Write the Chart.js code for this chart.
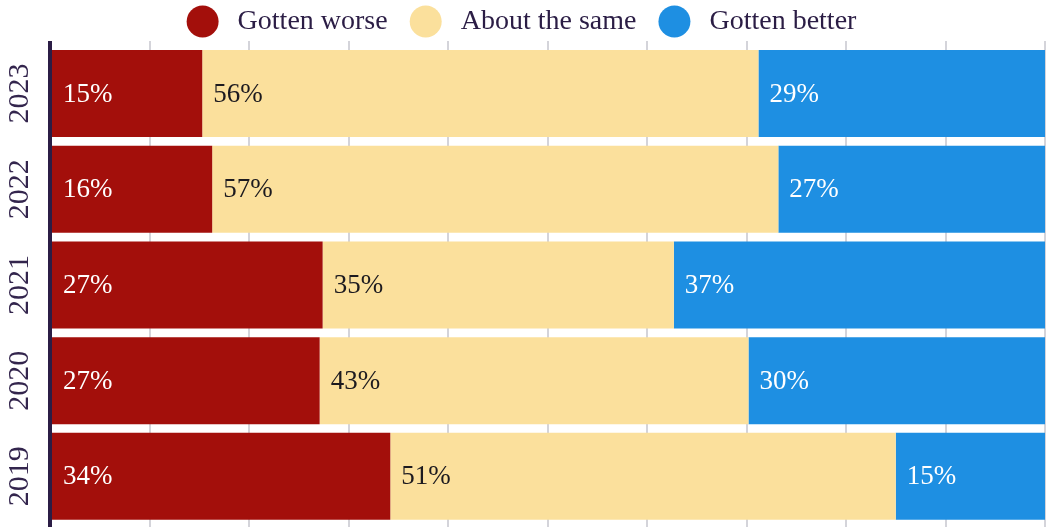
<!DOCTYPE html>
<html>
<head>
<meta charset="utf-8">
<script src="https://cdn.jsdelivr.net/npm/chart.js@4/dist/chart.umd.min.js"></script>
<style>
html,body{margin:0;padding:0;background:#fff;}
#wrap{width:1051px;height:527px;position:relative;}
</style>
</head>
<body>
<div id="wrap"><canvas id="c"></canvas></div>
<script>
const years = ['2023', '2022', '2021', '2020', '2019'];
const seriesNames = ['Gotten worse', 'About the same', 'Gotten better'];
const gottenWorse = [15.3, 16.3, 27.4, 27.1, 34.2];
const aboutSame = [55.9, 56.9, 35.3, 43.1, 50.8];
const gottenBetter = [28.8, 26.8, 37.3, 29.8, 15.0];
const shownWorse = [15, 16, 27, 27, 34];
const shownSame = [56, 57, 35, 43, 51];
const shownBetter = [29, 27, 37, 30, 15];

const barColors = ['#a30f0b', '#fbe09c', '#1e8fe2'];
const labelColors = ['#ffffff', '#1c1a1f', '#ffffff'];
const shown = [shownWorse, shownSame, shownBetter];
const dark = '#2b1d45';
const gridCol = '#d4d4da';

Chart.defaults.font.family = "'Liberation Serif', 'DejaVu Serif', serif";

const barLabels = {
  id: 'barLabels',
  afterDatasetsDraw(chart) {
    const ctx = chart.ctx;
    ctx.save();
    ctx.font = "27px 'Liberation Serif', serif";
    ctx.textBaseline = 'middle';
    ctx.textAlign = 'left';
    chart.data.datasets.forEach((ds, i) => {
      const meta = chart.getDatasetMeta(i);
      meta.data.forEach((bar, j) => {
        const p = bar.getProps(['x', 'y', 'base'], true);
        ctx.fillStyle = labelColors[i];
        ctx.fillText(shown[i][j] + '%', Math.min(p.x, p.base) + 11, p.y + 1);
      });
    });
    ctx.restore();
  }
};

const gridColor = c => (c.tick && c.tick.value === 0) ? dark : gridCol;
const gridWidth = c => (c.tick && c.tick.value === 0) ? 4 : 2;

new Chart(document.getElementById('c'), {
  type: 'bar',
  data: {
    labels: years,
    datasets: [
      { label: seriesNames[0], data: gottenWorse, backgroundColor: barColors[0], borderWidth: 0 },
      { label: seriesNames[1], data: aboutSame, backgroundColor: barColors[1], borderWidth: 0 },
      { label: seriesNames[2], data: gottenBetter, backgroundColor: barColors[2], borderWidth: 0 }
    ]
  },
  options: {
    indexAxis: 'y',
    responsive: true,
    maintainAspectRatio: false,
    animation: false,
    datasets: { bar: { barPercentage: 0.909, categoryPercentage: 1 } },
    layout: { padding: { top: -16.5, right: 6, left: 0, bottom: 0 } },
    plugins: {
      tooltip: { enabled: false },
      legend: {
        position: 'top',
        maxHeight: 57.5,
        labels: {
          usePointStyle: true,
          pointStyle: 'circle',
          boxWidth: 28,
          boxHeight: 22.6,
          padding: 24,
          color: dark,
          font: { size: 28 },
          generateLabels(chart) {
            const items = Chart.defaults.plugins.legend.labels.generateLabels(chart);
            items.forEach(it => { it.text = ' ' + it.text; it.lineWidth = 0; });
            return items;
          }
        }
      }
    },
    scales: {
      x: {
        position: 'top',
        stacked: true,
        min: 0,
        max: 100,
        ticks: { display: false, stepSize: 10 },
        border: { display: false },
        grid: { color: gridColor, lineWidth: gridWidth, tickLength: 4.65, drawTicks: true }
      },
      x2: {
        axis: 'x',
        type: 'linear',
        position: 'bottom',
        min: 0,
        max: 100,
        ticks: { display: false, stepSize: 10 },
        border: { display: false },
        grid: { drawOnChartArea: false, color: gridColor, lineWidth: gridWidth, tickLength: 2.8 }
      },
      y: {
        stacked: true,
        z: 1,
        grid: { display: false, drawTicks: false },
        border: { display: true, color: dark, width: 4, z: 1 },
        ticks: {
          autoSkip: false,
          minRotation: 90,
          maxRotation: 90,
          crossAlign: 'center',
          padding: 0,
          z: 1,
          color: '#33254d',
          font: { size: 30 }
        },
        afterFit(s) { s.width = 50; s.paddingTop = 0; s.paddingBottom = 0; }
      }
    }
  },
  plugins: [barLabels]
});
</script>
</body>
</html>
